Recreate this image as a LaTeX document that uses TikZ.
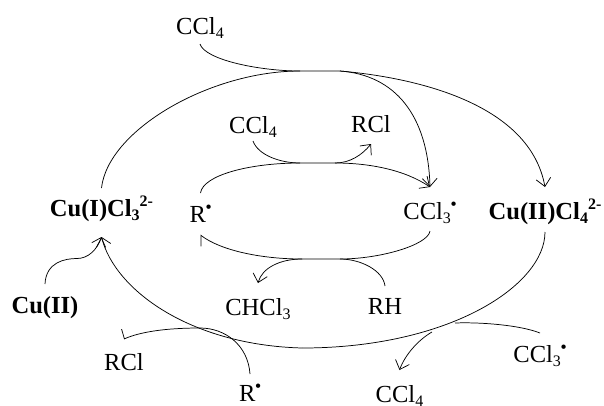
\documentclass[tikz,border=0pt]{standalone}
\usepackage{fontspec}
\setmainfont{Liberation Serif}
\usetikzlibrary{arrows.meta}
\newdimen\pxu \pxu=0.75pt
\newcommand{\sbs}[1]{\raisebox{-3.2pt}{\fontsize{12}{12}\selectfont #1}}
\newcommand{\sps}[1]{\raisebox{7pt}{\fontsize{12}{12}\selectfont #1}}
\newcommand{\rad}{\raisebox{7.5pt}{\fontsize{12}{12}\selectfont\textbf{•}}}
\tikzset{
  lab/.style 2 args={anchor=base,inner sep=0pt,outer sep=0pt,text height=#1\pxu,text depth=#2\pxu,font=\fontsize{18.4}{20}\selectfont},
  bondline/.style={line width=0.55pt,black},
  fullarrow/.style={bondline,-{Straight Barb[length=6pt,width=11pt]}},
  halfleft/.style={bondline,-{Straight Barb[length=5pt,width=13pt,left]}},
  halfright/.style={bondline,-{Straight Barb[length=1pt,width=15pt,right]}},
}
\begin{document}
\begin{tikzpicture}[x=0.75pt,y=-0.75pt]
\useasboundingbox (0,0) rectangle (604,405);
% labels
\node[lab={12}{10}] (ccla) at (200,34) {CCl\sbs{4}};
\node[lab={12}{8}] (cclb) at (253,133) {CCl\sbs{4}};
\node[lab={12}{12}] (rcla) at (371,132) {RCl};
\node[lab={28}{21}] (cui) at (101.5,216) {\textbf{Cu(I)Cl\sbs{3}\sps{2-}}};
\node[lab={29}{13}] (ra) at (200.5,222) {R\rad};
\node[lab={32}{12}] (cclc) at (430,219) {CCl\sbs{3}\rad};
\node[lab={32}{13}] (cuii) at (545,219) {\textbf{Cu(II)Cl\sbs{4}\sps{2-}}};
\node[lab={29}{5}] (cu) at (45,313) {\textbf{Cu(II)}};
\node[lab={32}{5}] (chcl) at (258,315) {CHCl\sbs{3}};
\node[lab={28}{5}] (rh) at (385,314) {RH};
\node[lab={31}{5}] (rclb) at (124,370) {RCl};
\node[lab={27}{5}] (rb) at (250,401) {R\rad};
\node[lab={32}{3}] (ccld) at (399.5,402) {CCl\sbs{4}};
\node[lab={29}{5}] (ccle) at (540,362) {CCl\sbs{3}\rad};
% junctions
\coordinate (topl) at (300,71);
\coordinate (topr) at (340,71);
\coordinate (inl) at (300,163);
\coordinate (inr) at (335,163);
\coordinate (lowl) at (302,259);
\coordinate (lowr) at (340,259);
\coordinate (bigm) at (302,348);
\coordinate (bend) at (77,258.5);
\coordinate (rbmid) at (200,328);
\coordinate (mergea) at (455,323);
\coordinate (mergeb) at (432,332);
% outer cycle, top
\draw[bondline] (ccla.south) .. controls (205,60) and (260,71) .. (topl);
\draw[bondline] (cui.north) .. controls (108,130) and (210,71) .. (topl) -- (topr);
\draw[fullarrow] (topr) .. controls (395,75) and (428,115) .. (cclc.north);
\draw[fullarrow] (topr) .. controls (420,78) and (530,105) .. (cuii.north);
% inner cycle, top
\draw[bondline] (ra.north) .. controls (203,175) and (250,163) .. (inl) -- (inr);
\draw[bondline] (cclb.south) .. controls (258,155) and (280,163) .. (inl);
\draw[fullarrow] (inr) .. controls (350,163) and (362,155) .. (rcla.south);
\draw[fullarrow] (inr) .. controls (370,163) and (405,170) .. (cclc.north);
% inner cycle, bottom
\draw[bondline] (cclc.south) .. controls (428,245) and (380,259) .. (lowr) -- (lowl);
\draw[bondline] (rh.north) .. controls (383,270) and (360,259) .. (lowr);
\draw[halfleft] (lowl) .. controls (260,259) and (220,250) .. (ra.south);
\draw[fullarrow] (lowl) .. controls (280,259) and (262,268) .. (chcl.north);
% outer cycle, bottom
\draw[bondline] (cuii.south) .. controls (545,285) and (450,348) .. (bigm);
\draw[fullarrow] (bigm) .. controls (190,345) and (115,290) .. (cui.south);
\draw[bondline] (cu.north) .. controls (46,262) and (65,258.5) .. (bend);
\draw[fullarrow] (bend) .. controls (88,258.5) and (97,250) .. (cui.south);
% side reactions
\draw[bondline] (rb.north) .. controls (248,345) and (225,328) .. (rbmid);
\draw[halfright] (rbmid) .. controls (165,328) and (140,332) .. (rclb.north);
\draw[bondline] (ccle.north) .. controls (520,325) and (480,322) .. (mergea);
\draw[fullarrow] (mergeb) .. controls (418,340) and (405,355) .. (ccld.north);
\end{tikzpicture}
\end{document}
